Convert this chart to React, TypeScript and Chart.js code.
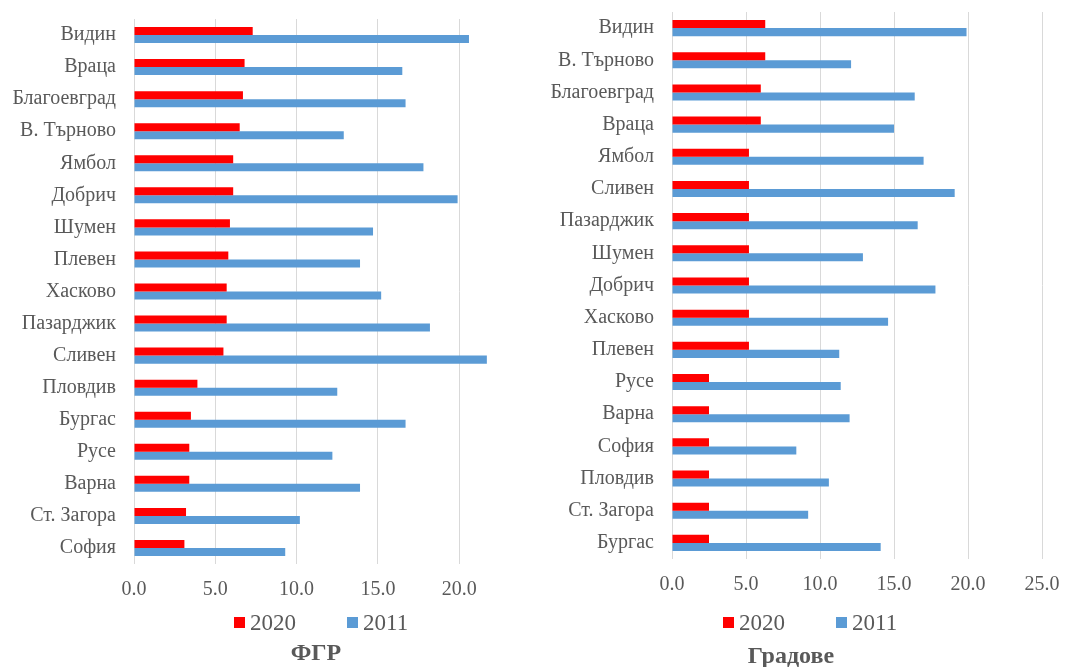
import React, { useEffect, useRef } from "react";
import { Chart, registerables } from "chart.js";

Chart.register(...registerables);

// ---- Data: ФГР (left panel) ----
const fgrCategories = [
  "Видин", "Враца", "Благоевград", "В. Търново", "Ямбол", "Добрич", "Шумен", "Плевен",
  "Хасково", "Пазарджик", "Сливен", "Пловдив", "Бургас", "Русе", "Варна", "Ст. Загора", "София",
];
const fgr2020 = [7.3, 6.8, 6.7, 6.5, 6.1, 6.1, 5.9, 5.8, 5.7, 5.7, 5.5, 3.9, 3.5, 3.4, 3.4, 3.2, 3.1];
const fgr2011 = [20.6, 16.5, 16.7, 12.9, 17.8, 19.9, 14.7, 13.9, 15.2, 18.2, 21.7, 12.5, 16.7, 12.2, 13.9, 10.2, 9.3];

// ---- Data: Градове (right panel) ----
const cityCategories = [
  "Видин", "В. Търново", "Благоевград", "Враца", "Ямбол", "Сливен", "Пазарджик", "Шумен",
  "Добрич", "Хасково", "Плевен", "Русе", "Варна", "София", "Пловдив", "Ст. Загора", "Бургас",
];
const city2020 = [6.3, 6.3, 6.0, 6.0, 5.2, 5.2, 5.2, 5.2, 5.2, 5.2, 5.2, 2.5, 2.5, 2.5, 2.5, 2.5, 2.5];
const city2011 = [19.9, 12.1, 16.4, 15.0, 17.0, 19.1, 16.6, 12.9, 17.8, 14.6, 11.3, 11.4, 12.0, 8.4, 10.6, 9.2, 14.1];

const seriesNames = ["2020", "2011"];
const panelTitles = ["ФГР", "Градове"];

const FONT = '"Liberation Serif", "Times New Roman", serif';
const TEXT = "#595959";
const RED = "#FF0000";
const BLUE = "#5B9BD5";

type PanelProps = {
  labels: string[];
  a: number[];
  b: number[];
  xMax: number;
  width: number;
  height: number;
  axisWidth: number;
  padTop: number;
  padBottom: number;
  padRight: number;
};

function BarPanel(p: PanelProps) {
  const ref = useRef<HTMLCanvasElement | null>(null);
  useEffect(() => {
    if (!ref.current) return;
    const chart = new Chart(ref.current, {
      type: "bar",
      data: {
        labels: p.labels,
        datasets: [
          { label: seriesNames[0], data: p.a, backgroundColor: RED, categoryPercentage: 0.5, barPercentage: 1 },
          { label: seriesNames[1], data: p.b, backgroundColor: BLUE, categoryPercentage: 0.5, barPercentage: 1 },
        ],
      },
      options: {
        indexAxis: "y",
        responsive: false,
        animation: false,
        layout: { padding: { top: p.padTop, bottom: p.padBottom, right: p.padRight, left: 0 } },
        plugins: { legend: { display: false }, tooltip: { enabled: false }, title: { display: false } },
        scales: {
          x: {
            min: 0,
            max: p.xMax,
            grid: { color: "#D9D9D9", lineWidth: 1, drawTicks: false },
            border: { display: false },
            afterBuildTicks: (scale: any) => {
              scale.ticks = scale.ticks.filter((t: any) => t.value % 5 === 0);
            },
            afterFit: (scale: any) => {
              scale.paddingLeft = 0;
              scale.paddingRight = 0;
            },
            ticks: {
              stepSize: 5,
              padding: 14,
              color: TEXT,
              font: { family: FONT, size: 20 },
              callback: (v: any) => Number(v).toFixed(1),
            },
          },
          y: {
            grid: { display: false, drawTicks: false },
            border: { display: false },
            afterFit: (scale: any) => {
              scale.width = p.axisWidth;
              scale.paddingTop = 0;
              scale.paddingBottom = 0;
            },
            ticks: {
              autoSkip: false,
              padding: 18,
              color: TEXT,
              font: { family: FONT, size: 20 },
            },
          },
        },
      },
    });
    return () => chart.destroy();
  }, []);
  return <canvas ref={ref} width={p.width} height={p.height} style={{ display: "block" }} />;
}

function Legend({ left, top }: { left: number; top: number }) {
  const item = (color: string, text: string, ml: number) => (
    <div style={{ display: "flex", alignItems: "center", marginLeft: ml }}>
      <span style={{ width: 11, height: 11, background: color, display: "inline-block", marginRight: 5 }} />
      <span style={{ fontFamily: FONT, fontSize: 23, lineHeight: "23px", color: TEXT }}>{text}</span>
    </div>
  );
  return (
    <div style={{ position: "absolute", left, top, display: "flex", alignItems: "center", height: 23 }}>
      {item(RED, seriesNames[0], 0)}
      {item(BLUE, seriesNames[1], 51)}
    </div>
  );
}

function Title({ cx, top, text }: { cx: number; top: number; text: string }) {
  return (
    <div
      style={{
        position: "absolute",
        left: cx - 150,
        width: 300,
        top,
        textAlign: "center",
        fontFamily: FONT,
        fontWeight: "bold",
        fontSize: 24,
        lineHeight: "24px",
        color: TEXT,
      }}
    >
      {text}
    </div>
  );
}

export default function App() {
  return (
    <div style={{ position: "absolute", left: 0, top: 0, width: 1082, height: 667, background: "#fff", overflow: "hidden" }}>
      <div style={{ position: "absolute", left: 0, top: 0 }}>
        <BarPanel
          labels={fgrCategories}
          a={fgr2020}
          b={fgr2011}
          xMax={23}
          width={540}
          height={667}
          axisWidth={134}
          padTop={19}
          padBottom={51}
          padRight={32}
        />
      </div>
      <div style={{ position: "absolute", left: 540, top: 0 }}>
        <BarPanel
          labels={cityCategories}
          a={city2020}
          b={city2011}
          xMax={25}
          width={542}
          height={667}
          axisWidth={132}
          padTop={12}
          padBottom={56}
          padRight={40}
        />
      </div>
      <Legend left={234} top={611} />
      <Legend left={723} top={611} />
      <Title cx={316} top={640} text={panelTitles[0]} />
      <Title cx={791} top={643} text={panelTitles[1]} />
    </div>
  );
}
